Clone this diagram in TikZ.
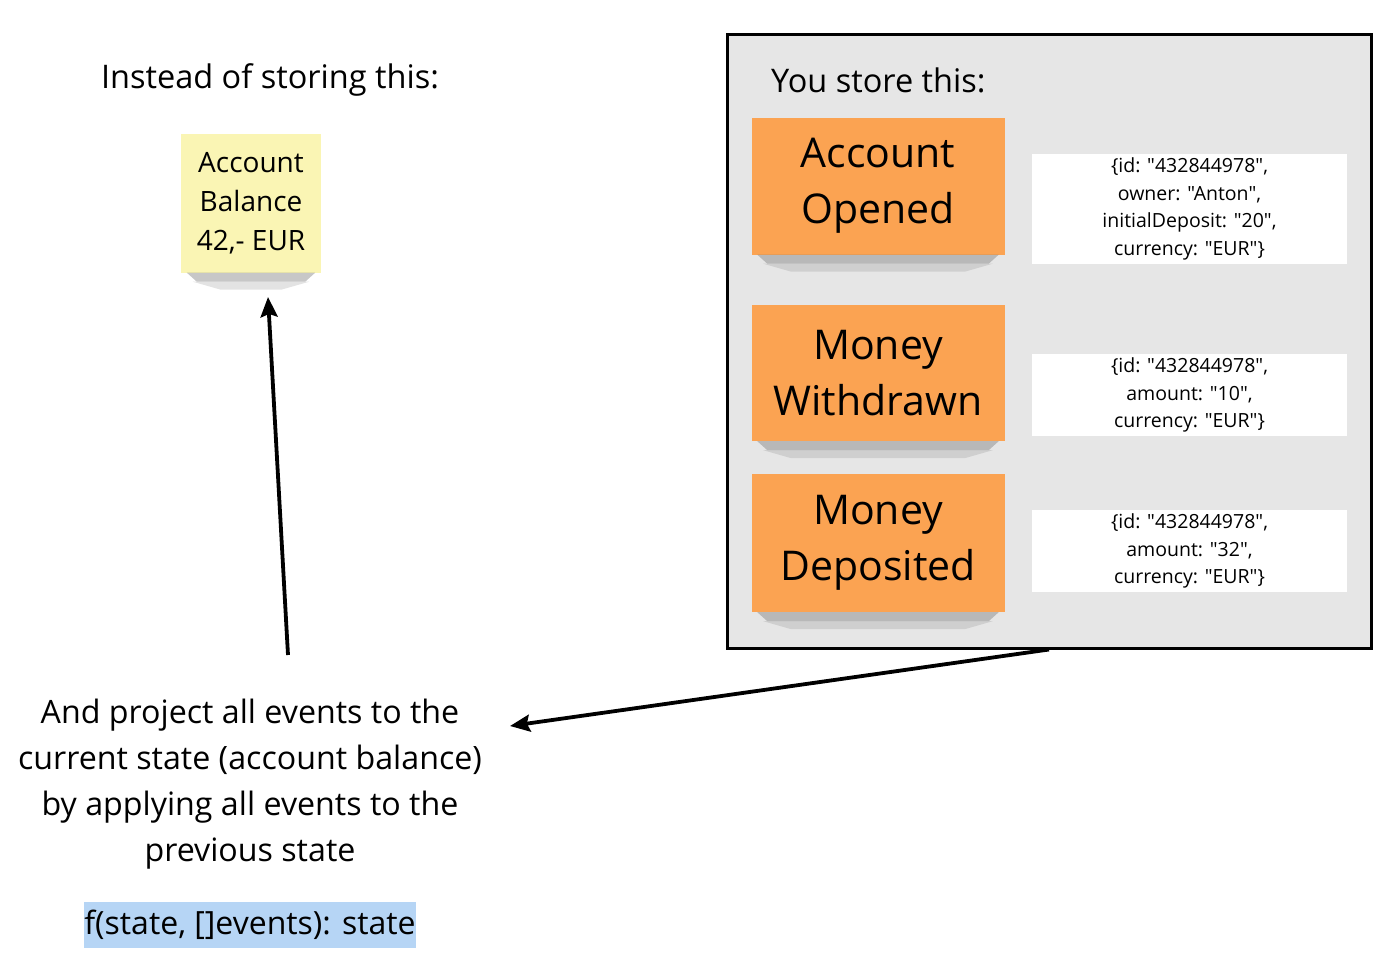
\documentclass[tikz,border=0pt]{standalone}
\usepackage{fontspec}
\setmainfont{Open Sans}[Ligatures=TeXOff]
\usetikzlibrary{arrows.meta,positioning}
\definecolor{evOrange}{HTML}{FBA352}
\definecolor{noteYellow}{HTML}{FAF5B4}
\definecolor{storeGray}{HTML}{E6E6E6}
\definecolor{fnBlue}{HTML}{B6D5F5}
\begin{document}
\begin{tikzpicture}[x=1pt,y=-1pt,
          ev/.style={fill=evOrange,minimum width=253pt,minimum height=137pt,inner sep=0,align=center,
            font=\fontsize{41}{56}\selectfont},
          js/.style={fill=white,minimum width=315pt,inner sep=0,align=center,
            font=\fontsize{19.5}{27.5}\selectfont},
          shd/.style={fill=black!55,opacity=0.4},
          e/.style={-{Stealth[length=20pt,width=17pt,inset=3pt]},line width=3.8pt}]
        \useasboundingbox (0,0) rectangle (1400,975);

        \node[font=\fontsize{32.5}{42}\selectfont] (instead) at (270,80) {Instead of storing this:};
        \node[fill=noteYellow,minimum width=140pt,minimum height=139pt,inner sep=0,align=center,
          font=\fontsize{28}{39}\selectfont] (note) at (251,203) {Account\\Balance\\42,- EUR};

        \node[draw,line width=3pt,fill=storeGray,minimum width=644pt,minimum height=614pt] (store) at (1049,341) {};
        \node[anchor=west,inner xsep=0,font=\fontsize{32.5}{42}\selectfont] (youstore) at (771,80) {You store this:};

        \node[ev] (opened) at (878,186) {Account\\Opened};
        \node[ev,minimum height=136pt] (withdrawn) at (878,373) {Money\\Withdrawn};
        \node[ev,minimum height=138pt] (deposited) at (878,543) {Money\\Deposited};

        % sticky shadows
        \foreach \n in {note,opened,withdrawn,deposited}{
          \fill[shd] ([xshift=6pt]\n.south west) -- ([xshift=-6pt]\n.south east)
            -- ([xshift=-16pt,yshift=-9pt]\n.south east) -- ([xshift=16pt,yshift=-9pt]\n.south west) -- cycle;
          \fill[shd,opacity=0.2] ([xshift=12pt,yshift=-9pt]\n.south west) -- ([xshift=-12pt,yshift=-9pt]\n.south east)
            -- ([xshift=-40pt,yshift=-17pt]\n.south east) -- ([xshift=40pt,yshift=-17pt]\n.south west) -- cycle;
        }

        \node[js,minimum height=110pt] (jsOpened) at (1189.5,209)
          {\{id: "432844978",\\owner: "Anton",\\initialDeposit: "20",\\currency: "EUR"\}};
        \node[js,minimum height=82pt] (jsWithdrawn) at (1189.5,395)
          {\{id: "432844978",\\amount: "10",\\currency: "EUR"\}};
        \node[js,minimum height=82pt] (jsDeposited) at (1189.5,551)
          {\{id: "432844978",\\amount: "32",\\currency: "EUR"\}};

        \node[align=center,font=\fontsize{32.2}{46}\selectfont] (project) at (250,784)
          {And project all events to the\\current state (account balance)\\by applying all events to the\\previous state};
        \node[fill=fnBlue,minimum width=332pt,minimum height=46pt,inner sep=0,
          font=\fontsize{32}{46}\selectfont] (fn) at (250,925) {f(state, []events): state};

        \coordinate (projOut) at (288,655);
        \coordinate (noteIn) at (268,297);
        \coordinate (projIn) at (510,726);
        \draw[e] (projOut) -- (noteIn);
        \draw[e] (store.south) -- (projIn);
\end{tikzpicture}
\end{document}
